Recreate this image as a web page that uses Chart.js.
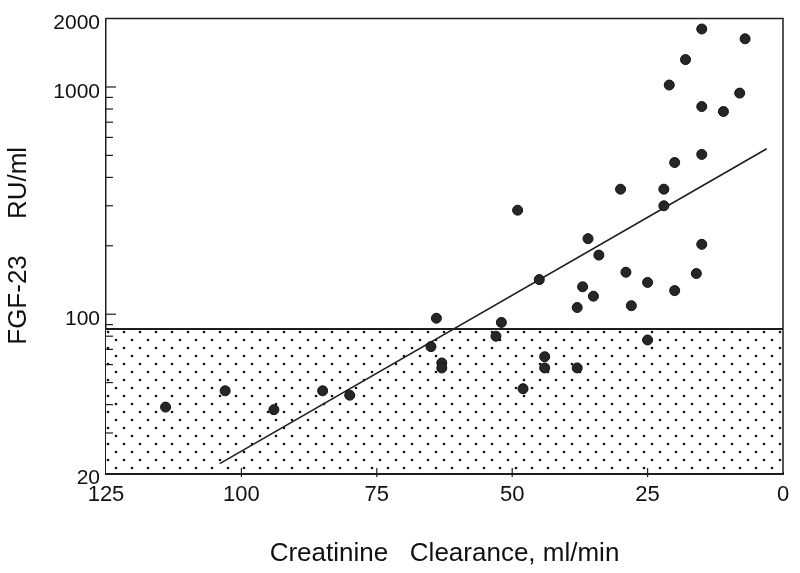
<!DOCTYPE html>
<html><head><meta charset="utf-8">
<script src="https://cdn.jsdelivr.net/npm/chart.js@4.4.0/dist/chart.umd.min.js"></script>
<style>html,body{margin:0;padding:0;background:#fff;}</style>
</head><body>
<canvas id="c" width="800" height="573"></canvas>
<script>
// ---- data ----
const clearance = [15,7,18,21,8,15,11,15,20,30,22,49,22,36,15,34,29,16,45,37,25,20,35,64,38,28,52,65,53,25,63,63,44,44,38,48,114,103,94,85,80];
const fgf23     = [1800,1630,1320,1020,940,820,780,505,465,355,355,287,300,215,203,182,153,151,142,132,138,127,120,96,107,109,92,72,80,77,61,58,65,58,58,47,39,46,38,46,44];
const regressionX = [104, 3];
const regressionY = [22, 535];
const normalRangeX = [125, 0];
const normalRangeY = [86, 86];
const xTickValues = [125, 100, 75, 50, 25, 0];
const yTickValues = [20, 100, 1000, 2000];
const yMinorTicks = [30, 40, 50, 60, 70, 80, 90, 200, 300, 400, 500, 600, 700, 800, 900];
const yMajorInnerTicks = [100, 1000];

const FONT = "'Liberation Sans', Arial, Helvetica, sans-serif";
const INK = '#1e1e1e';

// dotted fill pattern
const pc = document.createElement('canvas');
pc.width = 16; pc.height = 16;
const g = pc.getContext('2d');
g.fillStyle = '#fff'; g.fillRect(0, 0, 16, 16);
g.fillStyle = '#111';
g.beginPath(); g.arc(4, 4, 1.3, 0, Math.PI * 2); g.fill();
g.beginPath(); g.arc(12, 12, 1.3, 0, Math.PI * 2); g.fill();
const dotPattern = document.getElementById('c').getContext('2d').createPattern(pc, 'repeat');

const framePlugin = {
  id: 'frame',
  afterDatasetsDraw(chart) {
    const { ctx, chartArea: a, scales: { x, y } } = chart;
    ctx.save();
    ctx.strokeStyle = INK;
    ctx.lineWidth = 1.5;
    ctx.beginPath();
    ctx.moveTo(a.left, a.top); ctx.lineTo(a.right, a.top); ctx.lineTo(a.right, a.bottom);
    ctx.stroke();
    ctx.lineWidth = 1.2;
    yMinorTicks.forEach(v => {
      const py = y.getPixelForValue(v);
      ctx.beginPath(); ctx.moveTo(a.left, py); ctx.lineTo(a.left + 7, py); ctx.stroke();
    });
    yMajorInnerTicks.forEach(v => {
      const py = y.getPixelForValue(v);
      ctx.beginPath(); ctx.moveTo(a.left, py); ctx.lineTo(a.left + 10, py); ctx.stroke();
    });
    xTickValues.slice(1, -1).forEach(v => {
      const px = x.getPixelForValue(v);
      ctx.beginPath(); ctx.moveTo(px, a.bottom - 5); ctx.lineTo(px, a.bottom + 4); ctx.stroke();
    });
    ctx.restore();
  }
};

new Chart(document.getElementById('c'), {
  type: 'scatter',
  data: {
    datasets: [
      {
        label: 'patients',
        data: clearance.map((v, i) => ({ x: v, y: fgf23[i] })),
        pointRadius: 5,
        pointBackgroundColor: '#262626',
        pointBorderColor: '#111',
        pointBorderWidth: 1,
        order: 0
      },
      {
        type: 'line',
        label: 'regression',
        data: regressionX.map((v, i) => ({ x: v, y: regressionY[i] })),
        borderColor: INK,
        borderWidth: 1.6,
        pointRadius: 0,
        fill: false,
        order: 1
      },
      {
        type: 'line',
        label: 'normal range',
        data: normalRangeX.map((v, i) => ({ x: v, y: normalRangeY[i] })),
        borderColor: INK,
        borderWidth: 2,
        pointRadius: 0,
        fill: 'start',
        backgroundColor: dotPattern,
        order: 2
      }
    ]
  },
  options: {
    responsive: false,
    animation: false,
    events: [],
    layout: { padding: { left: 0, right: 17, top: 15, bottom: 0 } },
    plugins: { legend: { display: false }, tooltip: { enabled: false } },
    scales: {
      x: {
        type: 'linear',
        reverse: true,
        min: 0, max: 125,
        afterBuildTicks: s => { s.ticks = xTickValues.map(v => ({ value: v })); },
        afterFit: s => { s.height = 100; },
        grid: { display: true, drawOnChartArea: false, drawTicks: false },
        border: { display: true, color: INK, width: 3 },
        ticks: { color: '#111', font: { family: FONT, size: 22 }, padding: 9, maxRotation: 0, callback: v => String(v) },
        title: { display: true, text: 'Creatinine   Clearance, ml/min', color: '#111', font: { family: FONT, size: 26 }, padding: { top: 0, bottom: 4 } }
      },
      y: {
        type: 'logarithmic',
        min: 20, max: 2000,
        afterBuildTicks: s => { s.ticks = yTickValues.map(v => ({ value: v })); },
        afterFit: s => { s.width = 106; },
        grid: { display: true, drawOnChartArea: false, drawTicks: false },
        border: { display: true, color: INK, width: 1.5 },
        ticks: { color: '#111', font: { family: FONT, size: 21 }, padding: 6, labelOffset: 5, callback: v => String(v) },
        title: { display: true, text: 'FGF-23     RU/ml', color: '#111', font: { family: FONT, size: 26 }, padding: { top: 3, bottom: 0 } }
      }
    }
  },
  plugins: [framePlugin]
});
</script>
</body></html>
